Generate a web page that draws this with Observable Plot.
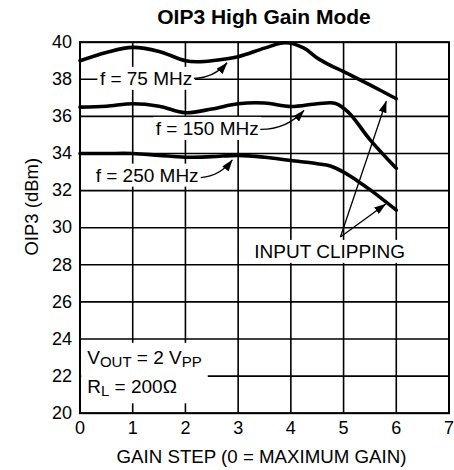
<!DOCTYPE html>
<html><head><meta charset="utf-8">
<script src="https://cdn.jsdelivr.net/npm/d3@7"></script>
<script src="https://cdn.jsdelivr.net/npm/@observablehq/plot@0.6"></script>
<style>
body{margin:0;background:#fff;font-family:"Liberation Sans",Arial,Helvetica,sans-serif;}
#title{width:454px;box-sizing:border-box;padding:2px 5.5px 0 79.5px;height:32px;line-height:30px;text-align:center;font-weight:bold;font-size:21px;color:#000;}
#chart{line-height:0;}
</style></head><body>
<div id="title">OIP3 High Gain Mode</div>
<div id="chart"></div>
<script>
// ---- data ----
const gainSteps = [0, 1, 2, 3, 4, 5, 6, 7];
const oipTicks = [20, 22, 24, 26, 28, 30, 32, 34, 36, 38, 40];

const x75 = [0, 0.5, 1, 1.5, 2, 2.25, 2.5, 3, 3.5, 3.9, 4.25, 4.5, 4.75, 5, 5.5, 6];
const y75 = [39.0, 39.45, 39.72, 39.5, 39.0, 38.95, 39.0, 39.22, 39.68, 39.97, 39.68, 39.15, 38.75, 38.42, 37.7, 36.95];

const x150 = [0, 0.5, 1, 1.5, 2, 2.5, 3, 3.5, 4, 4.5, 4.85, 5.1, 5.5, 6];
const y150 = [36.5, 36.55, 36.68, 36.55, 36.2, 36.4, 36.68, 36.72, 36.53, 36.68, 36.7, 36.2, 34.75, 33.2];

const x250 = [0, 0.5, 1, 1.5, 2, 2.5, 3, 3.5, 4, 4.5, 4.75, 5, 5.25, 5.5, 6];
const y250 = [34.0, 34.0, 34.0, 33.9, 33.8, 33.83, 33.9, 33.8, 33.62, 33.45, 33.33, 33.0, 32.55, 32.05, 30.95];

// annotations
const freqLabels = ["f = 75 MHz", "f = 150 MHz", "f = 250 MHz"];
const freqLabelEndX = [2.13, 3.39, 2.25];
const freqLabelY = [38.03, 35.33, 32.81];
const leaderX1 = [2.16, 3.42, 2.29];
const leaderY1 = [38.05, 35.3, 32.7];
const leaderX2 = [2.79, 4.25, 2.89];
const leaderY2 = [38.89, 36.32, 33.66];

const clipLabel = ["INPUT CLIPPING"];
const clipLabelX = [4.735];
const clipLabelY = [28.7];
const clipX1 = [4.94, 4.94];
const clipY1 = [29.5, 29.5];
const clipX2 = [5.81, 5.8];
const clipY2 = [36.82, 31.28];

const condLines = ["V{OUT} = 2 V{PP}", "R{L} = 200Ω"];
const condX = [0.137, 0.137];
const condY = [22.99, 21.4];

const xAxisLabel = ["GAIN STEP (0 = MAXIMUM GAIN)"];
const yAxisLabel = ["OIP3 (dBm)"];

// ---- build ----
const FONT = '"Liberation Sans", Arial, Helvetica, sans-serif';
const toRows = (xs, ys) => xs.map((x, i) => ({x, y: ys[i]}));

function arcCurve(bend) {
  return (context) => {
    let pts;
    return {
      areaStart() {}, areaEnd() {},
      lineStart() { pts = []; },
      point(x, y) { pts.push([+x, +y]); },
      lineEnd() {
        const [[x0, y0], [x1, y1]] = pts;
        const mx = (x0 + x1) / 2, my = (y0 + y1) / 2, dx = x1 - x0, dy = y1 - y0;
        context.moveTo(x0, y0);
        context.quadraticCurveTo(mx - dy * bend, my + dx * bend, x1, y1);
      }
    };
  };
}

const plot = Plot.plot({
  width: 454,
  height: 438,
  marginTop: 9.7,
  marginBottom: 57.3,
  marginLeft: 79.5,
  marginRight: 5.5,
  style: {fontFamily: FONT, fontSize: "18px", color: "black", background: "white", overflow: "visible"},
  x: {domain: [0, 7], ticks: gainSteps, tickFormat: d3.format("d"), tickSize: 0, tickPadding: 8, label: null},
  y: {domain: [20, 40], ticks: oipTicks, tickFormat: d3.format("d"), tickSize: 0, tickPadding: 8, label: null},
  marks: [
    Plot.ruleX(gainSteps, {x: d => d, stroke: "black", strokeWidth: 1.6}),
    Plot.ruleY(oipTicks, {y: d => d, stroke: "black", strokeWidth: 1.6}),
    Plot.text(freqLabels, {x: freqLabelEndX, y: freqLabelY, text: freqLabels, textAnchor: "end", fontSize: 19, fill: "black", ariaDescription: "boxed-each"}),
    Plot.text(clipLabel, {x: clipLabelX, y: clipLabelY, text: clipLabel, fontSize: 19, fill: "black", ariaDescription: "boxed-each"}),
    Plot.text(condLines, {x: condX, y: condY, text: condLines, textAnchor: "start", fontSize: 19, fill: "black", ariaDescription: "boxed-union"}),
    Plot.text(xAxisLabel, {frameAnchor: "bottom", lineAnchor: "middle", textAnchor: "middle", dy: 44, dx: -3, text: xAxisLabel, fontSize: 18.7, fill: "black"}),
    Plot.text(yAxisLabel, {frameAnchor: "left", lineAnchor: "middle", textAnchor: "middle", rotate: -90, dx: -47.5, dy: -21, text: yAxisLabel, fontSize: 18.5, fill: "black"}),
    Plot.line(toRows(x75, y75), {x: "x", y: "y", curve: "catmull-rom", stroke: "black", strokeWidth: 3.6}),
    Plot.line(toRows(x150, y150), {x: "x", y: "y", curve: "catmull-rom", stroke: "black", strokeWidth: 3.6}),
    Plot.line(toRows(x250, y250), {x: "x", y: "y", curve: "catmull-rom", stroke: "black", strokeWidth: 3.6}),
    Plot.link(freqLabels, {x1: leaderX1, y1: leaderY1, x2: leaderX2, y2: leaderY2, curve: arcCurve(0.22), stroke: "black", strokeWidth: 1.3, ariaDescription: "leader"}),
    Plot.link(clipX1, {x1: clipX1, y1: clipY1, x2: clipX2, y2: clipY2, stroke: "black", strokeWidth: 1.3, ariaDescription: "leader"}),
    Plot.frame({stroke: "black", strokeWidth: 2})
  ]
});
document.getElementById("chart").appendChild(plot);

// ---- post-processing: subscripts, white label boxes, filled arrowheads ----
const NS = "http://www.w3.org/2000/svg";
d3.select(plot).selectAll('g[aria-description="boxed-union"] text').each(function () {
  const s = this.textContent;
  this.textContent = "";
  let shifted = false;
  for (const part of s.split(/(\{[^}]*\})/)) {
    if (!part) continue;
    const t = document.createElementNS(NS, "tspan");
    if (part.startsWith("{")) {
      t.textContent = part.slice(1, -1);
      t.setAttribute("font-size", "15");
      if (!shifted) t.setAttribute("dy", "3");
      shifted = true;
    } else {
      t.textContent = part;
      if (shifted) t.setAttribute("dy", "-3");
      shifted = false;
    }
    this.appendChild(t);
  }
});

const sr = plot.getBoundingClientRect();
function rectOf(el) {
  const r = el.getBoundingClientRect();
  return {x0: r.left - sr.left, y0: r.top - sr.top, x1: r.right - sr.left, y1: r.bottom - sr.top};
}
function addRect(beforeNode, b, px, py) {
  const r = document.createElementNS(NS, "rect");
  r.setAttribute("x", b.x0 - px);
  r.setAttribute("y", b.y0 - py);
  r.setAttribute("width", b.x1 - b.x0 + 2 * px);
  r.setAttribute("height", b.y1 - b.y0 + 2 * py);
  r.setAttribute("fill", "white");
  plot.insertBefore(r, beforeNode);
}
plot.querySelectorAll('g[aria-description="boxed-each"]').forEach(g => {
  g.querySelectorAll("text").forEach(t => addRect(g, rectOf(t), 2.5, 1));
});
plot.querySelectorAll('g[aria-description="boxed-union"]').forEach(g => {
  const bs = Array.from(g.querySelectorAll("text")).map(rectOf);
  const u = {x0: d3.min(bs, b => b.x0), y0: d3.min(bs, b => b.y0), x1: d3.max(bs, b => b.x1), y1: d3.max(bs, b => b.y1)};
  addRect(g, u, 6, 4);
});

const defs = d3.select(plot).insert("defs", ":first-child");
defs.append("marker")
  .attr("id", "ahead")
  .attr("viewBox", "0 0 12 8")
  .attr("refX", 11.5).attr("refY", 4)
  .attr("markerWidth", 12).attr("markerHeight", 8)
  .attr("markerUnits", "userSpaceOnUse")
  .attr("orient", "auto")
  .append("path").attr("d", "M0,0L12,4L0,8Z").attr("fill", "black");
d3.select(plot).selectAll('g[aria-description="leader"] path').attr("marker-end", "url(#ahead)");
</script>
</body></html>
